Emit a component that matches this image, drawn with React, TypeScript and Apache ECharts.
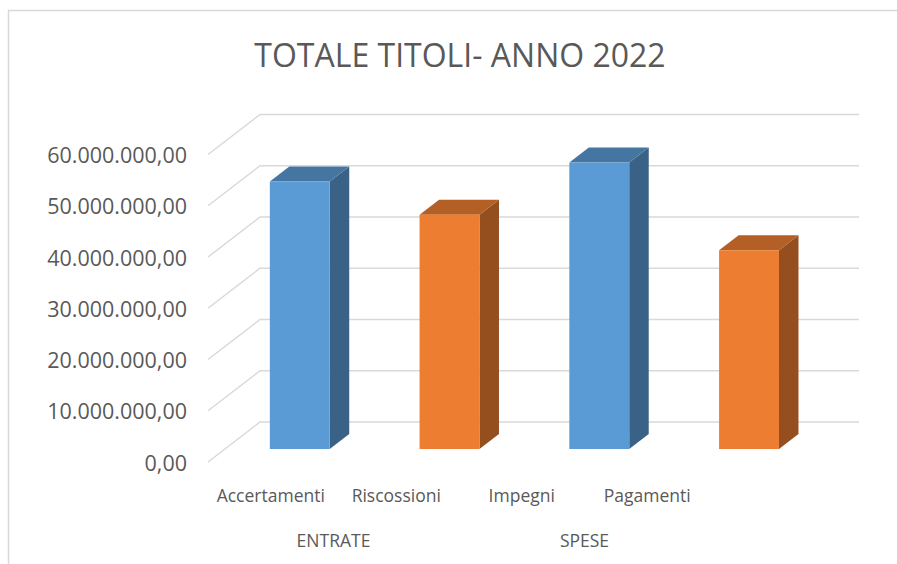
import React, { useEffect, useRef } from "react";
import * as echarts from "echarts";

const categories = ["Accertamenti", "Riscossioni", "Impegni", "Pagamenti"];
const groups = ["ENTRATE", "SPESE"];
const values = [52200000, 45700000, 55900000, 38800000];
const yTicks = [0, 10000000, 20000000, 30000000, 40000000, 50000000, 60000000];
const titleText = "TOTALE TITOLI- ANNO 2022";

const FRONT = ["#5b9bd5", "#ed7d31", "#5b9bd5", "#ed7d31"];
const TOP = ["#4576a2", "#b45f25", "#4576a2", "#b45f25"];
const SIDE = ["#396286", "#954f1f", "#396286", "#954f1f"];

const DX = 52;
const DY = -40;
const BAR_FRONT = 0.325;
const BAR_DEPTH = 0.375;
const BAR_W = 0.4;
const FONT = "'Open Sans', 'Noto Sans', sans-serif";
const TXT = "#595959";

function fmt(v: number): string {
  const s = Math.round(v).toString().replace(/\B(?=(\d{3})+(?!\d))/g, ".");
  return s + ",00";
}

export default function App() {
  const ref = useRef<HTMLDivElement>(null);
  useEffect(() => {
    if (!ref.current) return;
    const chart = echarts.init(ref.current, undefined, { renderer: "svg" });
    chart.setOption({
      animation: false,
      backgroundColor: "#ffffff",
      graphic: [
        {
          type: "rect",
          shape: { x: 8.5, y: 10.5, width: 1000, height: 1000 },
          style: { fill: "none", stroke: "#d9d9d9", lineWidth: 1.5 },
          z: 0,
        },
        {
          type: "text",
          x: 460,
          y: 54,
          style: {
            text: titleText,
            font: `32px ${FONT}`,
            fill: TXT,
            align: "center",
            verticalAlign: "middle",
          },
        },
      ],
      grid: [
        { left: 208, right: 90, top: 154.5, bottom: 102 },
        { left: 208, width: 502, top: 154.5, bottom: 102 },
      ],
      xAxis: [
        {
          type: "category",
          gridIndex: 0,
          data: categories,
          axisLine: { show: false },
          axisTick: { show: false },
          axisLabel: { show: false },
          splitLine: { show: false },
        },
        {
          type: "category",
          gridIndex: 1,
          position: "bottom",
          data: categories,
          axisLine: { show: false },
          axisTick: { show: false },
          axisLabel: { interval: 0, margin: 24, fontFamily: FONT, fontSize: 17.5, color: TXT },
        },
        {
          type: "category",
          gridIndex: 1,
          position: "bottom",
          offset: 0,
          data: groups,
          axisLine: { show: false },
          axisTick: { show: false },
          axisLabel: { interval: 0, margin: 69, fontFamily: FONT, fontSize: 17.5, color: TXT },
        },
      ],
      yAxis: [
        {
          type: "value",
          gridIndex: 0,
          min: 0,
          max: yTicks[yTicks.length - 1],
          interval: yTicks[1] - yTicks[0],
          axisLine: { show: false },
          axisTick: { show: false },
          splitLine: { show: false },
          axisLabel: {
            margin: 21,
            fontFamily: FONT,
            fontSize: 21.5,
            color: TXT,
            formatter: (v: number) => fmt(v),
          },
        },
        { type: "value", gridIndex: 1, show: false, min: 0, max: 1 },
      ],
      series: [
        {
          type: "custom",
          xAxisIndex: 0,
          yAxisIndex: 0,
          data: yTicks.map((t) => [0, t]),
          z: 1,
          renderItem: (params: any, api: any) => {
            const p = api.coord([0, api.value(1)]);
            const cs = params.coordSys;
            const y = p[1];
            return {
              type: "polyline",
              shape: {
                points: [
                  [cs.x, y],
                  [cs.x + DX, y + DY],
                  [cs.x + cs.width + DX, y + DY],
                ],
              },
              style: { stroke: "#d9d9d9", lineWidth: 1.5, fill: "none" },
            };
          },
        },
        {
          type: "custom",
          xAxisIndex: 0,
          yAxisIndex: 0,
          data: values.map((v, i) => [i, v]),
          z: 2,
          renderItem: (params: any, api: any) => {
            const idx = api.value(0);
            const v = api.value(1);
            const top = api.coord([idx, v]);
            const base = api.coord([idx, 0]);
            const cw = api.size([1, 0])[0];
            const bw = cw * BAR_W;
            const x0 = top[0] - bw / 2 + DX * BAR_FRONT;
            const x1 = x0 + bw;
            const yT = top[1] + DY * BAR_FRONT;
            const yB = base[1] + DY * BAR_FRONT;
            const dx = DX * BAR_DEPTH;
            const dy = DY * BAR_DEPTH;
            return {
              type: "group",
              children: [
                {
                  type: "polygon",
                  shape: { points: [[x1, yB], [x1 + dx, yB + dy], [x1 + dx, yT + dy], [x1, yT]] },
                  style: { fill: SIDE[idx] },
                },
                {
                  type: "polygon",
                  shape: { points: [[x0, yT], [x1, yT], [x1 + dx, yT + dy], [x0 + dx, yT + dy]] },
                  style: { fill: TOP[idx] },
                },
                {
                  type: "rect",
                  shape: { x: x0, y: yT, width: bw, height: yB - yT },
                  style: { fill: FRONT[idx] },
                },
              ],
            };
          },
        },
      ],
    });
    return () => chart.dispose();
  }, []);
  return (
    <div
      ref={ref}
      style={{ position: "fixed", left: 0, top: 0, width: 897, height: 564 }}
    />
  );
}
